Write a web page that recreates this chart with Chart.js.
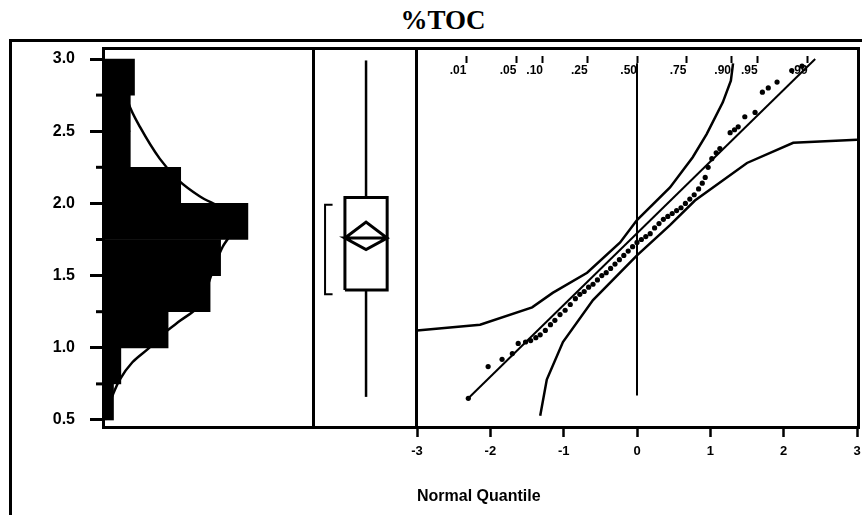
<!DOCTYPE html>
<html>
<head>
<meta charset="utf-8">
<title>%TOC</title>
<script src="https://cdn.jsdelivr.net/npm/chart.js@4.4.1/dist/chart.umd.min.js"></script>
<style>
  body { margin: 0; background: #fff; }
  #page { position: relative; width: 862px; height: 515px; overflow: hidden; }
  canvas { position: absolute; }
  .rule { position: absolute; background: #000; pointer-events: none; }
  #title { position: absolute; left: 343px; top: 5px; width: 200px; text-align: center;
           font: bold 27px "Liberation Serif", "Times New Roman", serif; color: #000; }
</style>
</head>
<body>
<div id="page">
  <div id="title">%TOC</div>
  <canvas id="hist" width="313" height="379" style="left:0;top:48px"></canvas>
  <canvas id="box" width="103" height="379" style="left:313px;top:48px"></canvas>
  <canvas id="nq" width="452" height="458" style="left:410px;top:48px"></canvas>
  <!-- frame -->
  <div class="rule" style="left:9px;top:39px;width:853px;height:3px"></div>
  <div class="rule" style="left:9px;top:39px;width:3px;height:476px"></div>
  <div class="rule" style="left:102px;top:47px;width:758px;height:3px"></div>
  <div class="rule" style="left:102px;top:426px;width:758px;height:3px"></div>
  <div class="rule" style="left:102px;top:47px;width:3px;height:382px"></div>
  <div class="rule" style="left:312px;top:47px;width:3px;height:382px"></div>
  <div class="rule" style="left:415px;top:47px;width:3px;height:382px"></div>
  <div class="rule" style="left:857px;top:47px;width:3px;height:382px"></div>
</div>
<script>
// histogram of %TOC (bins 0.25 wide, length in arbitrary units)
const binMids = [0.625, 0.875, 1.125, 1.375, 1.625, 1.875, 2.125, 2.375, 2.625, 2.875];
const binCounts = [5, 8.5, 31, 51, 56, 69, 37, 13, 13, 15];

// fitted density curve
const densityAt = [0.5, 0.57, 0.65, 0.78, 0.9, 1.0, 1.1, 1.19, 1.28, 1.4, 1.5, 1.6, 1.7, 1.77, 1.86, 1.95, 2.05, 2.16, 2.31, 2.53, 2.7, 2.85, 3.0];
const densityVals = [1, 2, 4, 8, 14, 22, 29, 37, 45, 49, 51.5, 54, 57, 60, 62, 58, 46, 36, 27, 17.6, 12, 10.5, 10];

// outlier box plot
const boxQ1 = 1.40, boxQ3 = 2.04;
const whiskerLow = 0.66, whiskerHigh = 2.99;
const meanValue = 1.76, meanLow = 1.68, meanHigh = 1.87;
const shortHalfLow = 1.37, shortHalfHigh = 1.99;

// normal quantile plot
const nqQuantile = [-2.30, -2.03, -1.84, -1.70, -1.62, -1.52, -1.45, -1.38, -1.32,
  -1.25, -1.18, -1.12, -1.05, -0.98, -0.91, -0.84, -0.78, -0.72, -0.66, -0.60, -0.54,
  -0.48, -0.42, -0.36, -0.30, -0.24, -0.18, -0.12, -0.06, 0.00, 0.06, 0.12, 0.18, 0.24,
  0.30, 0.36, 0.42, 0.48, 0.54, 0.60, 0.66, 0.72, 0.78, 0.84, 0.89, 0.93, 0.97, 1.02,
  1.08, 1.13, 1.27, 1.33, 1.38, 1.47, 1.61, 1.71, 1.79, 1.91, 2.11, 2.25];
const nqValue = [0.65, 0.87, 0.92, 0.96, 1.03, 1.04, 1.05, 1.07, 1.09,
  1.12, 1.16, 1.19, 1.23, 1.26, 1.30, 1.34, 1.37, 1.39, 1.42, 1.44, 1.47,
  1.50, 1.52, 1.55, 1.58, 1.61, 1.64, 1.67, 1.70, 1.73, 1.75, 1.77, 1.79, 1.83,
  1.86, 1.89, 1.91, 1.93, 1.95, 1.97, 2.00, 2.03, 2.06, 2.10, 2.14, 2.18, 2.25, 2.31,
  2.35, 2.38, 2.49, 2.51, 2.53, 2.60, 2.63, 2.77, 2.80, 2.84, 2.92, 2.95];
const fitQuantile = [-2.30, 2.43];
const fitValue = [0.65, 3.00];
const upperBandQ = [-3.0, -2.14, -1.43, -1.15, -0.68, -0.23, 0.0, 0.45, 0.76, 0.95, 1.17, 1.28, 1.31];
const upperBandV = [1.12, 1.16, 1.28, 1.38, 1.52, 1.73, 1.885, 2.11, 2.32, 2.48, 2.70, 2.85, 2.97];
const lowerBandQ = [-1.32, -1.23, -1.01, -0.60, 0.0, 0.45, 0.79, 1.50, 2.13, 3.0];
const lowerBandV = [0.53, 0.78, 1.04, 1.33, 1.64, 1.85, 2.02, 2.28, 2.42, 2.44];
const refQuantile = [0, 0];
const refValue = [0.67, 2.97];
const probLabels = ['.01', '.05', '.10', '.25', '.50', '.75', '.90', '.95', '.99'];
const probQuantiles = [-2.326, -1.645, -1.282, -0.674, 0, 0.674, 1.282, 1.645, 2.326];

// value ranges so the three panels share one vertical scale
const Y_MIN = 0.4515, Y_MAX = 3.0762, Y_MAX_NQ = 2.9723;
const FONT = '"Liberation Sans", Arial, sans-serif';

const isMajor = v => Math.abs(v * 2 - Math.round(v * 2)) < 1e-6;
const pts = (xs, ys) => xs.map((x, i) => ({ x, y: ys[i] }));
const seg = (data, w) => ({ data, showLine: true, borderColor: '#000', borderWidth: w,
  pointRadius: 0, tension: 0, fill: false, clip: false, borderJoinStyle: 'miter' });
const base = { responsive: false, animation: false, devicePixelRatio: 1,
  plugins: { legend: { display: false }, tooltip: { enabled: false } } };

// fixed axis size, and no extra room reserved for edge labels
const fixSize = (w, h) => s => {
  if (w !== null) s.width = w;
  if (h !== null) s.height = h;
  s.paddingLeft = s.paddingRight = s.paddingTop = s.paddingBottom = 0;
};

const minorTicks = {
  id: 'minorTicks',
  afterDraw(chart) {
    const { ctx, chartArea } = chart;
    const y = chart.scales.y;
    ctx.save();
    ctx.strokeStyle = '#000';
    ctx.lineWidth = 3;
    y.ticks.forEach(t => {
      if (isMajor(t.value)) return;
      const py = y.getPixelForValue(t.value);
      ctx.beginPath();
      ctx.moveTo(chartArea.left - 7, py);
      ctx.lineTo(chartArea.left, py);
      ctx.stroke();
    });
    ctx.restore();
  }
};

new Chart(document.getElementById('hist'), {
  type: 'bar',
  data: {
    datasets: [
      { type: 'bar', data: binMids.map((m, i) => ({ x: binCounts[i], y: m })),
        backgroundColor: '#000', borderWidth: 0, barPercentage: 1, categoryPercentage: 1, order: 2 },
      { type: 'line', data: densityAt.map((v, i) => ({ x: densityVals[i], y: v })),
        borderColor: '#000', borderWidth: 2.5, pointRadius: 0, tension: 0.35, fill: false, order: 1 }
    ]
  },
  options: {
    ...base,
    indexAxis: 'y',
    layout: { padding: 0 },
    scales: {
      x: { type: 'linear', display: false, min: 0, max: 100 },
      y: {
        type: 'linear', min: Y_MIN, max: Y_MAX, offset: false,
        afterFit: fixSize(103, null),
        border: { display: false },
        grid: { drawOnChartArea: false, offset: false, tickLength: 13, tickWidth: 3,
          tickColor: c => (c.tick && isMajor(c.tick.value)) ? '#000' : 'rgba(0,0,0,0)' },
        ticks: { stepSize: 0.25, includeBounds: false, autoSkip: false, padding: 15, color: '#000',
          font: { family: FONT, size: 16, weight: 'bold' },
          callback: v => isMajor(v) ? v.toFixed(1) : '' }
      }
    }
  },
  plugins: [minorTicks]
});

// horizontal placement inside the box panel (0..1)
const boxLeft = 0.31, boxRight = 0.72, boxMid = 0.515, bracketX = 0.117, bracketEnd = 0.19;

new Chart(document.getElementById('box'), {
  type: 'scatter',
  data: {
    datasets: [
      seg([{ x: boxMid, y: boxQ3 }, { x: boxMid, y: whiskerHigh }], 2.5),
      seg([{ x: boxMid, y: whiskerLow }, { x: boxMid, y: boxQ1 }], 2.5),
      seg([{ x: boxLeft, y: boxQ1 }, { x: boxLeft, y: boxQ3 }, { x: boxRight, y: boxQ3 },
           { x: boxRight, y: boxQ1 }, { x: boxLeft, y: boxQ1 }], 3),
      seg([{ x: boxLeft, y: meanValue }, { x: boxMid, y: meanHigh }, { x: boxRight, y: meanValue },
           { x: boxMid, y: meanLow }, { x: boxLeft, y: meanValue }, { x: boxRight, y: meanValue }], 3),
      seg([{ x: bracketEnd, y: shortHalfHigh }, { x: bracketX, y: shortHalfHigh },
           { x: bracketX, y: shortHalfLow }, { x: bracketEnd, y: shortHalfLow }], 2)
    ]
  },
  options: {
    ...base,
    layout: { padding: 0 },
    scales: {
      x: { type: 'linear', display: false, min: 0, max: 1 },
      y: { type: 'linear', display: false, min: Y_MIN, max: Y_MAX }
    }
  }
});

new Chart(document.getElementById('nq'), {
  type: 'scatter',
  data: {
    datasets: [
      { data: pts(nqQuantile, nqValue), pointRadius: 2.6, backgroundColor: '#000', borderWidth: 0, clip: false },
      seg(pts(fitQuantile, fitValue), 2),
      seg(pts(upperBandQ, upperBandV), 2.5),
      seg(pts(lowerBandQ, lowerBandV), 2.5),
      seg(pts(refQuantile, refValue), 2)
    ]
  },
  options: {
    ...base,
    layout: { padding: { left: 7, right: 5, top: 0, bottom: 0 } },
    scales: {
      x: {
        type: 'linear', position: 'bottom', min: -3, max: 3,
        afterFit: fixSize(null, 79),
        border: { display: false },
        grid: { drawOnChartArea: false, tickLength: 10, tickWidth: 2.5, tickColor: '#000' },
        ticks: { stepSize: 1, padding: 7, color: '#000', maxRotation: 0,
          font: { family: FONT, size: 13, weight: 'bold' } },
        title: { display: true, text: 'Normal Quantile', align: 'start', color: '#000', padding: 0,
          font: { family: FONT, size: 16, weight: 'bold' } }
      },
      xp: {
        type: 'linear', position: 'top', min: -3, max: 3,
        afterBuildTicks: s => { s.ticks = probQuantiles.map(v => ({ value: v })); },
        afterFit: fixSize(null, 15),
        border: { display: false },
        grid: { drawOnChartArea: false, tickLength: 7, tickWidth: 2, tickColor: '#000' },
        ticks: { mirror: true, align: 'end', padding: 0, autoSkip: false, maxRotation: 0, color: '#000',
          font: { family: FONT, size: 12, weight: 'bold' },
          callback: (v, i) => probLabels[i] }
      },
      y: { type: 'linear', display: false, min: Y_MIN, max: Y_MAX_NQ }
    }
  }
});
</script>
</body>
</html>
